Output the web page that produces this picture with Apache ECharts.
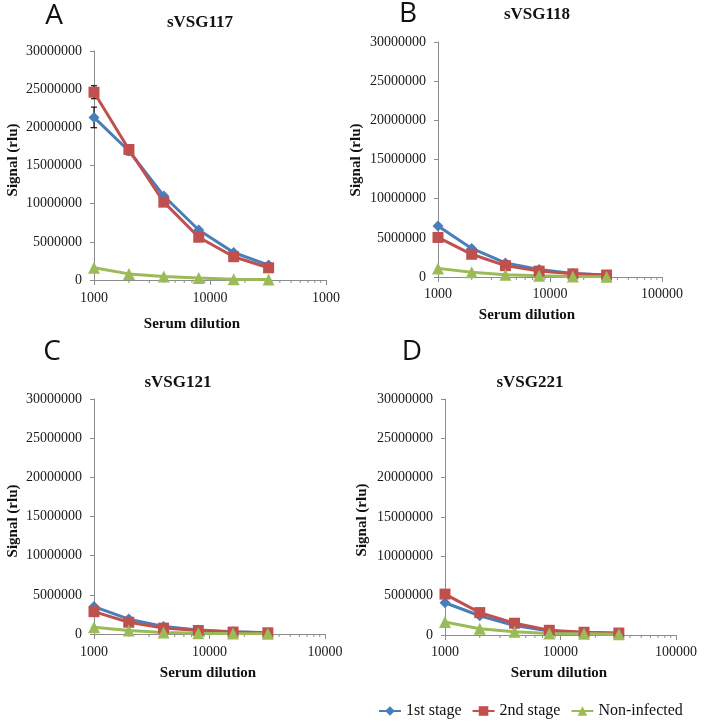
<!DOCTYPE html>
<html>
<head>
<meta charset="utf-8">
<script src="https://cdn.jsdelivr.net/npm/echarts@6/dist/echarts.min.js"></script>
<style>
  html, body { margin: 0; padding: 0; background: #fff; }
  #chart { width: 704px; height: 724px; }
</style>
</head>
<body>
<div id="chart"></div>
<script>
const dilutions = [1000, 2000, 4000, 8000, 16000, 32000];

const stage1A = [21300000, 16900000, 11000000, 6550000, 3600000, 1950000];
const stage2A = [24600000, 17100000, 10200000, 5600000, 3050000, 1600000];
const nonInfA = [1600000, 800000, 450000, 250000, 100000, 50000];
const stage1ErrA = [1350000, 500000, 0, 0, 0, 0];
const stage2ErrA = [850000, 0, 0, 0, 0, 0];

const stage1B = [6500000, 3650000, 1800000, 950000, 450000, 250000];
const stage2B = [5050000, 2900000, 1450000, 750000, 400000, 250000];
const nonInfB = [1100000, 600000, 300000, 150000, 70000, 40000];

const stage1C = [3500000, 1900000, 950000, 500000, 300000, 150000];
const stage2C = [2850000, 1500000, 750000, 450000, 250000, 150000];
const nonInfC = [850000, 450000, 200000, 100000, 50000, 30000];

const stage1D = [4100000, 2450000, 1200000, 500000, 300000, 200000];
const stage2D = [5200000, 2850000, 1500000, 600000, 350000, 250000];
const nonInfD = [1650000, 800000, 400000, 200000, 150000, 100000];

const xTickValues = [1000, 10000, 100000];
const xLabelsA = ['1000', '10000', '1000'];
const xLabelsB = ['1000', '10000', '100000'];
const xLabelsC = ['1000', '10000', '10000'];
const xLabelsD = ['1000', '10000', '100000'];
const minorTicks = [2000, 3000, 4000, 5000, 6000, 7000, 8000, 9000,
    20000, 30000, 40000, 50000, 60000, 70000, 80000, 90000];

const seriesNames = ['1st stage', '2nd stage', 'Non-infected'];
const colors = ['#4a7ebb', '#c0504d', '#9bbb59'];
const symbols = ['diamond', 'rect', 'triangle'];
const symbolSizes = [11, 11, 12];

const serif = 'Liberation Serif';
const axisGray = '#8c8c8c';

const chart = echarts.init(document.getElementById('chart'));

const grids = [
    { left: 94, top: 51, width: 232, height: 229 },
    { left: 438, top: 42, width: 224, height: 235 },
    { left: 94, top: 399, width: 231, height: 235 },
    { left: 445, top: 399, width: 231, height: 236 }
];
const labelMargins = [11, 10, 11, 10];
const xLabelSets = [xLabelsA, xLabelsB, xLabelsC, xLabelsD];
const panelData = [
    [stage1A, stage2A, nonInfA],
    [stage1B, stage2B, nonInfB],
    [stage1C, stage2C, nonInfC],
    [stage1D, stage2D, nonInfD]
];

function xLabelFor(i) {
    return function (v) {
        let best = 0;
        xTickValues.forEach((t, k) => {
            if (Math.abs(Math.log10(t) - Math.log10(v)) < Math.abs(Math.log10(xTickValues[best]) - Math.log10(v))) best = k;
        });
        return xLabelSets[i][best];
    };
}

const xAxes = grids.map((g, i) => ({
    type: 'log',
    logBase: 10,
    gridIndex: i,
    min: 1000,
    max: 100000,
    axisLine: { lineStyle: { color: axisGray, width: 1 } },
    axisTick: { show: true, length: 5, lineStyle: { color: axisGray } },
    splitLine: { show: false },
    axisLabel: {
        margin: labelMargins[i],
        fontFamily: serif,
        fontSize: 14,
        color: '#1a1a1a',
        showMinLabel: true,
        showMaxLabel: true,
        hideOverlap: false,
        formatter: xLabelFor(i)
    }
}));

const yAxes = grids.map((g, i) => ({
    type: 'value',
    gridIndex: i,
    min: 0,
    max: 30000000,
    interval: 5000000,
    axisLine: { show: true, lineStyle: { color: axisGray, width: 1 } },
    axisTick: { show: true, length: 4, lineStyle: { color: axisGray } },
    splitLine: { show: false },
    axisLabel: {
        margin: 12,
        fontFamily: serif,
        fontSize: 14,
        color: '#1a1a1a',
        formatter: v => String(v)
    }
}));

const series = [];

// error bars (panel A)
function errorBarItem(params, api) {
    const x = api.value(0);
    const top = api.coord([x, api.value(2)]);
    const bot = api.coord([x, api.value(1)]);
    const w = 3;
    const st = { stroke: '#111', lineWidth: 1.2 };
    return {
        type: 'group',
        children: [
            { type: 'line', shape: { x1: top[0], y1: top[1], x2: bot[0], y2: bot[1] }, style: st },
            { type: 'line', shape: { x1: top[0] - w, y1: top[1], x2: top[0] + w, y2: top[1] }, style: st },
            { type: 'line', shape: { x1: bot[0] - w, y1: bot[1], x2: bot[0] + w, y2: bot[1] }, style: st }
        ]
    };
}
const errData = [];
[[stage1A, stage1ErrA], [stage2A, stage2ErrA]].forEach(([vals, errs]) => {
    dilutions.forEach((d, k) => {
        if (errs[k] > 0) errData.push([d, vals[k] - errs[k], vals[k] + errs[k]]);
    });
});
series.push({
    type: 'custom',
    xAxisIndex: 0,
    yAxisIndex: 0,
    z: 1,
    clip: false,
    renderItem: errorBarItem,
    data: errData
});

// minor ticks of the log axes
function minorTickItem(params, api) {
    const p = api.coord([api.value(0), 0]);
    return {
        type: 'line',
        shape: { x1: p[0], y1: p[1], x2: p[0], y2: p[1] + 3 },
        style: { stroke: axisGray, lineWidth: 1 }
    };
}

grids.forEach((g, i) => {
    series.push({
        type: 'custom',
        xAxisIndex: i,
        yAxisIndex: i,
        clip: false,
        silent: true,
        renderItem: minorTickItem,
        data: minorTicks.map(v => [v, 0])
    });
    panelData[i].forEach((vals, s) => {
        series.push({
            name: seriesNames[s],
            type: 'line',
            xAxisIndex: i,
            yAxisIndex: i,
            z: 3,
            color: colors[s],
            symbol: symbols[s],
            symbolSize: symbolSizes[s],
            showAllSymbol: true,
            lineStyle: { width: 3, color: colors[s] },
            itemStyle: { color: colors[s] },
            data: dilutions.map((d, k) => [d, vals[k]])
        });
    });
});

function txt(text, x, y, font, rotation) {
    return {
        type: 'text',
        x: x,
        y: y,
        rotation: rotation || 0,
        style: {
            text: text,
            font: font,
            fill: '#111',
            align: 'center',
            verticalAlign: 'middle'
        }
    };
}
const letterFont = '28px "Open Sans"';
const titleFont = 'bold 17px "Liberation Serif"';
const nameFont = 'bold 15px "Liberation Serif"';
const up = Math.PI / 2;

chart.setOption({
    animation: false,
    backgroundColor: '#fff',
    grid: grids.map(g => Object.assign({ containLabel: false, outerBoundsMode: 'none' }, g)),
    xAxis: xAxes,
    yAxis: yAxes,
    legend: {
        data: seriesNames,
        left: 378,
        top: 703,
        width: 326,
        padding: 0,
        itemWidth: 22,
        itemHeight: 12,
        itemGap: 10,
        textStyle: { fontFamily: serif, fontSize: 16, color: '#111' }
    },
    graphic: [
        txt('A', 54, 16, letterFont),
        txt('B', 408, 14, letterFont),
        txt('C', 52, 352, letterFont),
        txt('D', 412, 352, letterFont),
        txt('sVSG117', 200, 23, titleFont),
        txt('sVSG118', 537, 15, titleFont),
        txt('sVSG121', 178, 383, titleFont),
        txt('sVSG221', 530, 383, titleFont),
        txt('Signal (rlu)', 13, 160, nameFont, up),
        txt('Signal (rlu)', 356, 160, nameFont, up),
        txt('Signal (rlu)', 13, 521, nameFont, up),
        txt('Signal (rlu)', 362, 520, nameFont, up),
        txt('Serum dilution', 192, 324, nameFont),
        txt('Serum dilution', 527, 315, nameFont),
        txt('Serum dilution', 208, 673, nameFont),
        txt('Serum dilution', 559, 673, nameFont)
    ],
    series: series
});
</script>
</body>
</html>
